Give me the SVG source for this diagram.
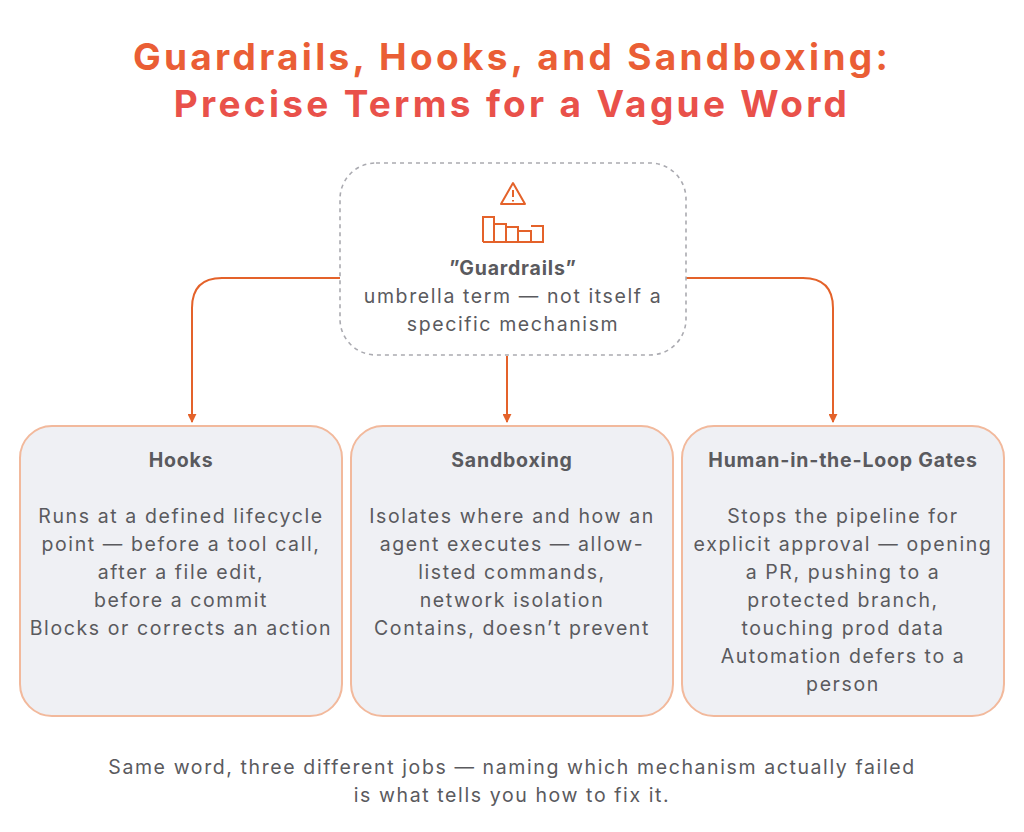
<svg xmlns="http://www.w3.org/2000/svg" width="1024" height="832" viewBox="0 0 1024 832">
<defs>
<marker id="ah" viewBox="0 0 10 10" refX="9" refY="5" markerWidth="9" markerHeight="9" markerUnits="userSpaceOnUse" orient="auto"><path d="M0,0L10,5L0,10z" fill="#e4622a"/></marker>
<style>
.t{font-family:Inter,"Liberation Sans",sans-serif;font-weight:700;font-size:37px;letter-spacing:3.3px;text-anchor:middle}
.b{font-family:Inter,"Liberation Sans",sans-serif;font-size:19.5px;letter-spacing:1.6px;fill:#5a5a5e;text-anchor:middle}
.h{font-weight:700;letter-spacing:0.8px}
.card{fill:#eff0f4;stroke:#f2b99c;stroke-width:2}
.c{fill:none;stroke:#e4622a;stroke-width:2}
.ic{fill:none;stroke:#e4622a;stroke-width:2}
</style>
</defs>
<rect width="1024" height="832" fill="#fff"/>
<text class="t" x="512" y="70" fill="#ea5e35">Guardrails, Hooks, and Sandboxing:</text>
<text class="t" x="512" y="117" fill="#e9514a">Precise Terms for a Vague Word</text>
<g id="connectors">
<path class="c" d="M340,278H222Q192,278 192,308V422" marker-end="url(#ah)"/>
<path class="c" d="M686,278H803Q833,278 833,308V422" marker-end="url(#ah)"/>
<path class="c" d="M507,356V422" marker-end="url(#ah)"/>
</g>
<g id="guardrails">
<rect x="340" y="163" width="346" height="192" rx="36" fill="#fff" stroke="#aaaab0" stroke-width="1.6" stroke-dasharray="4 4"/>
<path class="ic" d="M513,183L525,204H501Z" stroke-linejoin="round"/>
<path d="M513,190V197M513,200V201.5" stroke="#e4622a" stroke-width="2"/>
<path class="ic" d="M483,242V217H494V242M494,224H506V242M506,227H518V242M518,231H531V242M531,226H543V242H483"/>
<text class="b h" x="513" y="275">”Guardrails”</text>
<text class="b" x="513" y="303">umbrella term — not itself a</text>
<text class="b" x="513" y="331">specific mechanism</text>
</g>
<g id="hooks">
<rect class="card" x="20" y="426" width="322" height="290" rx="32"/>
<text class="b h" x="181" y="467">Hooks</text>
<text class="b" x="181" y="523">Runs at a defined lifecycle</text>
<text class="b" x="181" y="551">point — before a tool call,</text>
<text class="b" x="181" y="579">after a file edit,</text>
<text class="b" x="181" y="607">before a commit</text>
<text class="b" x="181" y="635">Blocks or corrects an action</text>
</g>
<g id="sandboxing">
<rect class="card" x="351" y="426" width="322" height="290" rx="32"/>
<text class="b h" x="512" y="467">Sandboxing</text>
<text class="b" x="512" y="523">Isolates where and how an</text>
<text class="b" x="512" y="551">agent executes — allow-</text>
<text class="b" x="512" y="579">listed commands,</text>
<text class="b" x="512" y="607">network isolation</text>
<text class="b" x="512" y="635">Contains, doesn’t prevent</text>
</g>
<g id="hitl">
<rect class="card" x="682" y="426" width="322" height="290" rx="32"/>
<text class="b h" x="843" y="467">Human-in-the-Loop Gates</text>
<text class="b" x="843" y="523">Stops the pipeline for</text>
<text class="b" x="843" y="551">explicit approval — opening</text>
<text class="b" x="843" y="579">a PR, pushing to a</text>
<text class="b" x="843" y="607">protected branch,</text>
<text class="b" x="843" y="635">touching prod data</text>
<text class="b" x="843" y="663">Automation defers to a</text>
<text class="b" x="843" y="691">person</text>
</g>
<text class="b" x="512" y="774">Same word, three different jobs — naming which mechanism actually failed</text>
<text class="b" x="512" y="802">is what tells you how to fix it.</text>
</svg>
